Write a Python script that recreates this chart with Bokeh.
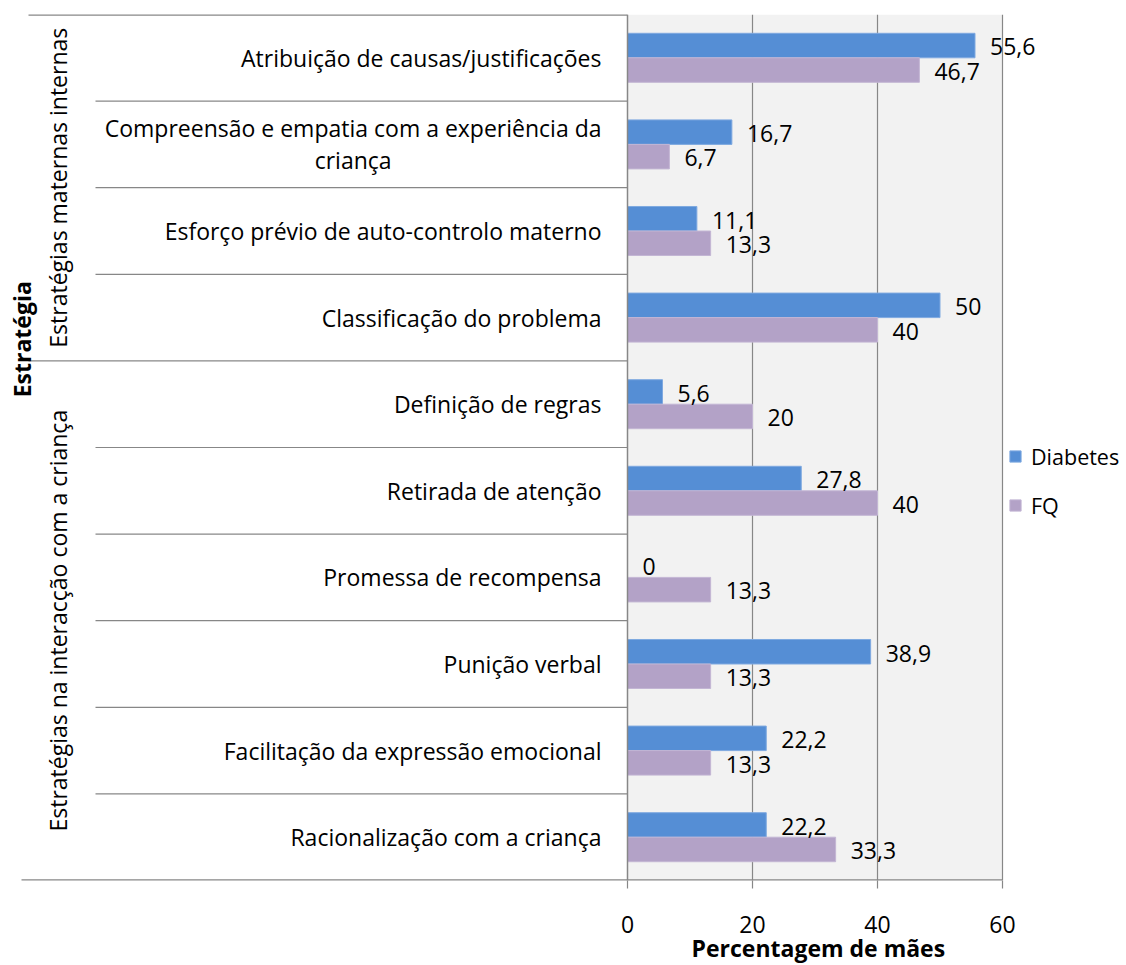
import math
from bokeh.plotting import figure
from bokeh.models import (ColumnDataSource, FactorRange, Range1d, FixedTicker,
                          Legend, LegendItem, Title)
from bokeh.transform import dodge
from bokeh.core.properties import value
from bokeh.embed import file_html
from bokeh.resources import INLINE

# ---------------- data ----------------
categories = [
    "Atribuição de causas/justificações",
    "Compreensão e empatia com a experiência da\ncriança",
    "Esforço prévio de auto-controlo materno",
    "Classificação do problema",
    "Definição de regras",
    "Retirada de atenção",
    "Promessa de recompensa",
    "Punição verbal",
    "Facilitação da expressão emocional",
    "Racionalização com a criança",
]
diabetes = [55.6, 16.7, 11.1, 50, 5.6, 27.8, 0, 38.9, 22.2, 22.2]
fq = [46.7, 6.7, 13.3, 40, 20, 40, 13.3, 13.3, 13.3, 33.3]
series_names = ["Diabetes", "FQ"]
groups = ["Estratégias maternas internas", "Estratégias na interacção com a criança"]
group_sizes = [4, 6]
x_ticks = [0, 20, 40, 60]
x_title = "Percentagem de mães"
y_title = "Estratégia"


def fmt(v):
    return f"{v:g}".replace(".", ",")


# ---------------- style ----------------
FONT = "Open Sans"
FS = "23px"
GRID = "#878787"
BLUE = "#558ed5"
PURPLE = "#b3a2c7"
BG = "#f2f2f2"

W, H = 1122, 965
TOP, FRAME_H = 14, 866
ZERO_PX = 627            # position of value 0 inside the figure
PPU = 375 / (x_ticks[-1] - x_ticks[0])   # pixels per value unit


def px(d):
    """pixel distance left of the zero line -> data units"""
    return -d / PPU


n = len(categories)
x_range = Range1d(-ZERO_PX / PPU, (W - ZERO_PX) / PPU)
y_range = FactorRange(factors=categories[::-1])

p = figure(width=W, height=H, x_range=x_range, y_range=y_range,
           output_backend="svg", toolbar_location=None, y_axis_location=None,
           min_border_left=0, min_border_right=0, min_border_top=TOP,
           min_border_bottom=H - TOP - FRAME_H, outline_line_color=None,
           background_fill_color="white", border_fill_color="white")
p.xgrid.visible = False
p.ygrid.visible = False

src = ColumnDataSource(dict(
    cat=categories, diabetes=diabetes, fq=fq,
    dlab=[fmt(v) for v in diabetes], flab=[fmt(v) for v in fq],
))

# plot area background
p.quad(left=[x_ticks[0]], right=[x_ticks[-1]], bottom=[0], top=[n],
       fill_color=BG, line_color=None)
# vertical gridlines
p.segment(x0=x_ticks[1:], x1=x_ticks[1:], y0=[0] * 3, y1=[n] * 3,
          line_color=GRID, line_width=1.2)

bar_h = 0.283
off = bar_h / 2
r1 = p.hbar(y=dodge("cat", off, range=p.y_range), left=0, right="diabetes",
            height=bar_h, source=src, fill_color=BLUE, line_color="#7fa9e0",
            line_width=1)
r2 = p.hbar(y=dodge("cat", -off, range=p.y_range), left=0, right="fq",
            height=bar_h, source=src, fill_color=PURPLE, line_color="#c3b6d4",
            line_width=1)

# value labels
common = dict(text_font=value(FONT), text_font_size=FS, text_color="black",
              text_baseline="middle")
p.text(x="diabetes", y=dodge("cat", off - 0.015, range=p.y_range), text="dlab",
       x_offset=15, source=src, **common)
p.text(x="fq", y=dodge("cat", -off - 0.015, range=p.y_range), text="flab",
       x_offset=15, source=src, **common)

# separator lines on the label side
boundaries = list(range(1, n))
group_bounds = []
acc = n
for g in group_sizes[:-1]:
    acc -= g
    group_bounds.append(acc)
cat_lines = [b for b in boundaries if b not in group_bounds]
p.segment(x0=[px(532)] * len(cat_lines), x1=[0] * len(cat_lines),
          y0=cat_lines, y1=cat_lines, line_color=GRID, line_width=1.2)
p.segment(x0=[px(599)] * len(group_bounds), x1=[0] * len(group_bounds),
          y0=group_bounds, y1=group_bounds, line_color=GRID, line_width=1.2)
p.segment(x0=[px(599)], x1=[0], y0=[n], y1=[n], line_color=GRID, line_width=2.4)
# bottom line (category axis baseline) and value-axis line at 0
p.segment(x0=[px(606)], x1=[x_ticks[-1]], y0=[0], y1=[0], line_color=GRID, line_width=2.4)
p.segment(x0=[0], x1=[0], y0=[0], y1=[n], line_color=GRID, line_width=1.5)

# category labels
p.text(x=0, y="cat", text="cat", source=src, x_offset=-26, anchor="center_right",
       text_align="center", text_baseline="middle", text_line_height=1.0,
       text_font=value(FONT), text_font_size=FS, text_color="black")

# group labels
centers = []
top = n
for g in group_sizes:
    centers.append(top - g / 2)
    top -= g
p.text(x=[px(570)] * len(groups), y=centers, text=groups, angle=math.pi / 2,
       text_align="center", text_baseline="middle",
       text_font=value(FONT), text_font_size=FS, text_color="black")

# category axis title
p.text(x=[px(606)], y=[group_bounds[0] + 0.25], text=[y_title], angle=math.pi / 2,
       text_align="center", text_baseline="middle", text_font_style="bold",
       text_font=value(FONT), text_font_size=FS, text_color="black")

# value axis
ax = p.xaxis[0]
ax.ticker = FixedTicker(ticks=x_ticks)
ax.axis_line_color = None
ax.major_tick_line_color = GRID
ax.major_tick_line_width = 1.2
ax.major_tick_out = 8
ax.major_tick_in = 0
ax.minor_tick_line_color = None
ax.major_label_standoff = 27
ax.major_label_text_font = FONT
ax.major_label_text_font_size = FS
ax.major_label_text_color = "black"

# value axis title (left-aligned with an offset so it sits under the data area)
p.add_layout(Title(text=x_title, align="left", offset=691, standoff=-12,
                   vertical_align="bottom", text_font=FONT, text_font_size=FS,
                   text_font_style="bold", text_color="black"), "below")

legend = Legend(items=[LegendItem(label=series_names[0], renderers=[r1]),
                       LegendItem(label=series_names[1], renderers=[r2])],
                location=(1008, 360.4), orientation="vertical",
                glyph_width=14, glyph_height=14, label_standoff=9,
                spacing=20, label_height=25, padding=0, margin=0,
                border_line_color=None, background_fill_alpha=0,
                label_text_font=FONT, label_text_font_size="21.5px",
                label_text_color="black")
p.add_layout(legend)

open("out.html", "w").write(file_html(p, INLINE))
